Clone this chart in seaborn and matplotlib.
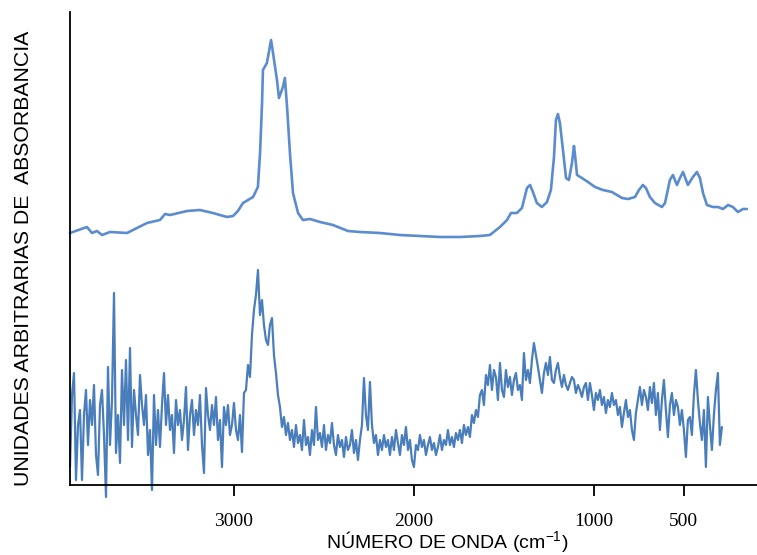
import numpy as np
import pandas as pd
import matplotlib
matplotlib.use("Agg")
import matplotlib.pyplot as plt
import seaborn as sns

# ---- data ----
# Upper spectrum (wavenumber cm-1, arbitrary absorbance units)
upper_wn = [3911, 3817, 3789, 3761, 3733, 3689, 3594, 3539, 3483, 3411, 3383, 3355,
            3261, 3189, 3117, 3039, 3005, 2978, 2950, 2894, 2867, 2855, 2844, 2839,
            2817, 2794, 2783, 2761, 2750, 2728, 2717, 2705, 2689, 2672, 2644, 2617,
            2578, 2522, 2450, 2367, 2300, 2189, 2078, 1967, 1855, 1744, 1633, 1578,
            1522, 1483, 1461, 1428, 1400, 1372, 1355, 1339, 1317, 1289, 1261, 1239,
            1222, 1211, 1200, 1189, 1172, 1155, 1139, 1122, 1111, 1105, 1094, 1067,
            1033, 994, 950, 900, 872, 844, 811, 772, 750, 728, 711, 689, 661, 622,
            605, 578, 561, 539, 522, 505, 478, 450, 428, 411, 394, 372, 339, 311,
            283, 255, 228, 200, 172, 150]
upper_abs = [252, 258, 252, 254, 250, 253, 252, 257, 262, 265, 271, 270,
             274, 275, 272, 268, 269, 274, 282, 288, 298, 332, 382, 415,
             422, 445, 432, 405, 387, 398, 407, 378, 332, 292, 272, 265,
             266, 263, 260, 254, 253, 252, 250, 249, 248, 248, 249, 250,
             258, 265, 272, 272, 277, 297, 300, 293, 282, 278, 283, 295,
             328, 365, 371, 362, 335, 307, 305, 322, 339, 330, 310, 307,
             303, 298, 295, 293, 290, 287, 286, 288, 295, 300, 297, 288, 282, 278,
             282, 305, 310, 300, 307, 313, 300, 308, 313, 307, 292, 280, 278, 278,
             276, 280, 278, 273, 276, 276]

# Lower spectrum (noisy), evenly sampled from 3911 to 289 cm-1
lower_start, lower_end = 3911, 289
lower_abs = [
    18, 90, 112, 5, 60, 75, 5, 70, 95, 40, 85, 60, 100, 30, 10, 80, 95, 50, -12, 118,
    40, 85, 192, 32, 70, 22, 115, 60, 125, 45, 137, 38, 95, 70, 50, 110, 80, 60, 90, 30,
    55, -5, 90, 40, 75, 38, 80, 112, 60, 90, 55, 70, 32, 85, 60, 75, 45, 65, 98, 35,
    70, 85, 50, 75, 60, 90, 40, 12, 97, 70, 55, 80, 60, 88, 45, 65, 18, 78, 60, 80,
    50, 60, 82, 55, 45, 70, 33, 92,
    95, 120, 108, 150, 175, 190, 215, 170, 185, 160, 145, 140, 160, 167, 130, 112,
    90, 78, 58, 68, 50, 62, 45, 55, 38, 60, 42, 50, 35, 65, 40, 48, 30, 55, 40, 78,
    45, 52, 38, 60, 35, 50, 42, 62, 40, 30, 50, 38, 45, 28, 48, 35, 40, 55, 32, 45,
    25, 45, 60, 107, 70, 55, 103, 60, 42, 50, 30, 45, 35, 50, 38, 45, 30, 48, 35, 55,
    42, 30, 50, 40, 58, 35, 45, 25, 18, 40, 35, 50, 38, 45, 30, 40, 48, 35, 42, 30,
    38, 50, 35, 45, 40, 55, 40, 48, 38, 52, 45, 55, 42, 60, 50, 58, 48, 70, 62, 75,
    68, 90, 95, 80, 110, 100, 120, 95, 115, 108, 85,
    122, 95, 88, 115, 98, 108, 90, 105, 112, 95, 100, 85, 132, 105, 115, 102, 125, 142,
    130, 118, 105, 92, 112, 122, 110, 128, 105, 102, 115, 122, 108, 98, 110, 100, 95,
    102, 108, 105, 92, 100, 95, 88, 98, 102, 85, 102, 90, 75, 92, 85, 95, 80, 88, 72,
    85, 78, 92, 80, 85, 70, 78, 58, 72, 85, 68, 75, 55, 45, 72, 85, 98, 80, 95, 88,
    75, 98, 82, 102, 70, 92, 55, 85, 105, 75, 48, 80, 92, 70, 85, 78, 60, 75, 55, 28,
    65, 68, 50, 90, 115, 85, 62, 45, 75, 18, 88, 60, 35, 70, 95, 112, 40, 58]
lower_wn = np.linspace(lower_start, lower_end, len(lower_abs))

xticks = [3000, 2000, 1000, 500]
xlabel = "NÚMERO DE ONDA (cm$^{-1}$)"
ylabel = "UNIDADES ARBITRARIAS DE  ABSORBANCIA"

df_up = pd.DataFrame({"wn": upper_wn, "abs": upper_abs})
df_lo = pd.DataFrame({"wn": lower_wn, "abs": lower_abs})

# ---- plot ----
sns.set_style("white")
plt.rcParams["font.family"] = ["Liberation Sans", "DejaVu Sans"]
plt.rcParams["text.color"] = "black"
plt.rcParams["axes.labelcolor"] = "black"
plt.rcParams["xtick.color"] = "black"
plt.rcParams["mathtext.fontset"] = "custom"
plt.rcParams["mathtext.rm"] = "Liberation Sans"

fig = plt.figure(figsize=(7.57, 5.55), dpi=100)
ax = fig.add_axes([70 / 757, 1 - 485 / 555, 1 - 70 / 757, (485 - 12) / 555])

line_col_up = "#5B8CCF"
line_col_lo = "#4A7EBB"
sns.lineplot(data=df_up, x="wn", y="abs", ax=ax, color=line_col_up, lw=1.9,
             sort=False, estimator=None)
sns.lineplot(data=df_lo, x="wn", y="abs", ax=ax, color=line_col_lo, lw=1.6,
             sort=False, estimator=None)
for ln in ax.lines:
    ln.set_clip_on(False)

ax.set_xlim(3911, 94)
ax.set_ylim(0, 473)
ax.set_xticks(xticks)
ax.set_xticklabels([str(t) for t in xticks], fontfamily="Liberation Serif", fontsize=14)
ax.set_yticks([])
ax.tick_params(axis="x", direction="out", length=8, width=1.3, color="black", pad=12,
               bottom=True, labelcolor="black")
for s in ["top", "right"]:
    ax.spines[s].set_visible(False)
for s in ["left", "bottom"]:
    ax.spines[s].set_color("black")
    ax.spines[s].set_linewidth(1.3)

ax.set_xlabel("")
ax.set_ylabel("")
fig.text(447 / 757, 1 - 549 / 555, xlabel, fontsize=14, ha="center", va="baseline",
         color="black")
fig.text(24 / 757, 1 - 258 / 555, ylabel, fontsize=15.3, rotation=90, ha="center",
         va="center", color="black")

fig.savefig("out.png", dpi=100)
